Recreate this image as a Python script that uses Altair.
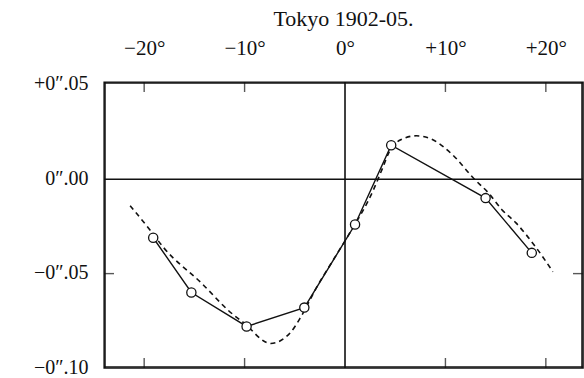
import altair as alt
import pandas as pd

# observed values (solid line with open circles)
obs_x = [-19.1, -15.3, -9.8, -4.05, 1.0, 4.6, 14.0, 18.6]
obs_y = [-0.031, -0.060, -0.078, -0.068, -0.024, 0.018, -0.010, -0.039]

# smooth dashed curve
curve_x = [-21.4, -19.4, -18.1, -14.3, -11.3, -10.1, -7.4, -5.4, -4.4, -2.8, -1.2,
           0.3, 2.8, 3.75, 4.45, 5.6, 7.1, 8.7, 10.7, 12.8, 14.3, 15.6, 17.0, 19.0, 20.7]
curve_y = [-0.014, -0.027, -0.036, -0.055, -0.071, -0.076, -0.087, -0.081, -0.073,
           -0.057, -0.043, -0.030, -0.006, 0.006, 0.015, 0.021, 0.023, 0.021, 0.013,
           0.0005, -0.0074, -0.016, -0.023, -0.036, -0.049]

x_tick_values = [-20, -10, 0, 10, 20]
x_tick_labels = ["−20°", "−10°", "0°", "+10°", "+20°"]
y_tick_values = [0.05, 0, -0.05, -0.1]
y_tick_labels = ["+0″.05", "0″.00", "−0″.05", "−0″.10"]
inner_x_ticks = [-20, -10, 10, 20]
inner_y_ticks = [-0.05]
ref_lines = [0]

X_DOM = [-24.0, 23.7]
Y_DOM = [-0.1, 0.0515]

FONT = "Liberation Serif"
INK = "#111111"

obs = pd.DataFrame({"x": obs_x, "y": obs_y})
curve = pd.DataFrame({"x": curve_x, "y": curve_y})
xt_top = pd.DataFrame({"x": inner_x_ticks, "y": [Y_DOM[1]] * len(inner_x_ticks)})
xt_bot = pd.DataFrame({"x": inner_x_ticks, "y": [Y_DOM[0]] * len(inner_x_ticks)})
yt_left = pd.DataFrame({"x": [X_DOM[0]] * len(inner_y_ticks), "y": inner_y_ticks})
yt_right = pd.DataFrame({"x": [X_DOM[1]] * len(inner_y_ticks), "y": inner_y_ticks})
ref = pd.DataFrame({"x": ref_lines, "y": ref_lines})
frame_top = pd.DataFrame({"y": [Y_DOM[1]]})
frame_bottom = pd.DataFrame({"y": [Y_DOM[0]]})
frame_left = pd.DataFrame({"x": [X_DOM[0]]})
frame_right = pd.DataFrame({"x": [X_DOM[1]]})

def js_list(vals):
    return "[" + ",".join(repr(v) if not isinstance(v, str) else "'" + v + "'" for v in vals) + "]"

x_label_expr = f"{js_list(x_tick_labels)}[indexof({js_list(x_tick_values)}, datum.value)]"
y_label_expr = f"{js_list(y_tick_labels)}[indexof({js_list(y_tick_values)}, datum.value)]"

xscale = alt.Scale(domain=X_DOM, nice=False, zero=False)
yscale = alt.Scale(domain=Y_DOM, nice=False, zero=False)

x_axis = alt.Axis(orient="top", values=x_tick_values, labelExpr=x_label_expr, title=None,
                  grid=False, domain=False, ticks=False, labelFont=FONT, labelFontSize=21,
                  labelColor=INK, labelPadding=24, labelFlush=False, labelOverlap=False)
y_axis = alt.Axis(orient="left", values=y_tick_values, labelExpr=y_label_expr, title=None,
                  grid=False, domain=False, ticks=False, labelFont=FONT, labelFontSize=20,
                  labelColor=INK, labelPadding=16, labelFlush=False, labelOverlap=False,
                  labelOffset=-1)

def X():
    return alt.X("x:Q", scale=xscale, axis=x_axis)

def Y():
    return alt.Y("y:Q", scale=yscale, axis=y_axis)

f_top = alt.Chart(frame_top).mark_rule(color=INK, strokeWidth=1.5, yOffset=1).encode(y=Y())
f_bottom = alt.Chart(frame_bottom).mark_rule(color=INK, strokeWidth=1.5, yOffset=-1).encode(y=Y())
f_left = alt.Chart(frame_left).mark_rule(color=INK, strokeWidth=1.5, xOffset=1).encode(x=X())
f_right = alt.Chart(frame_right).mark_rule(color=INK, strokeWidth=1.5, xOffset=-1).encode(x=X())

hline = alt.Chart(ref).mark_rule(color=INK, strokeWidth=1.6).encode(y=Y())
vline = alt.Chart(ref).mark_rule(color=INK, strokeWidth=1.6).encode(x=X())

tick_top = alt.Chart(xt_top).mark_tick(orient="vertical", size=10, thickness=1.4, color=INK,
                                       yOffset=5).encode(x=X(), y=Y())
tick_bot = alt.Chart(xt_bot).mark_tick(orient="vertical", size=10, thickness=1.4, color=INK,
                                       yOffset=-5).encode(x=X(), y=Y())
tick_left = alt.Chart(yt_left).mark_tick(orient="horizontal", size=10, thickness=1.4, color=INK,
                                         xOffset=5).encode(x=X(), y=Y())
tick_right = alt.Chart(yt_right).mark_tick(orient="horizontal", size=10, thickness=1.4, color=INK,
                                           xOffset=-5).encode(x=X(), y=Y())

dashed = alt.Chart(curve).mark_line(color=INK, strokeWidth=1.6, strokeDash=[5, 4],
                                    interpolate="monotone").encode(x=X(), y=Y())

solid = alt.Chart(obs).mark_line(color=INK, strokeWidth=1.4).encode(x=X(), y=Y())
pts = alt.Chart(obs).mark_point(shape="circle", size=85, filled=True, fill="white",
                                stroke=INK, strokeWidth=1.3, opacity=1).encode(x=X(), y=Y())

chart = alt.layer(f_top, f_bottom, f_left, f_right, hline, vline,
                  tick_top, tick_bot, tick_left, tick_right,
                  dashed, solid, pts).properties(
    width=479, height=286,
    background="white",
    title=alt.TitleParams("Tokyo 1902-05.", font=FONT, fontSize=22, fontWeight="normal",
                          color=INK, anchor="middle", offset=6),
    autosize=alt.AutoSizeParams(type="none"),
    padding={"left": 104, "top": 82, "right": 1, "bottom": 10},
).configure_view(stroke=INK, strokeWidth=1.4)

chart.save("out.html", embed_options={"renderer": "svg", "actions": False})
